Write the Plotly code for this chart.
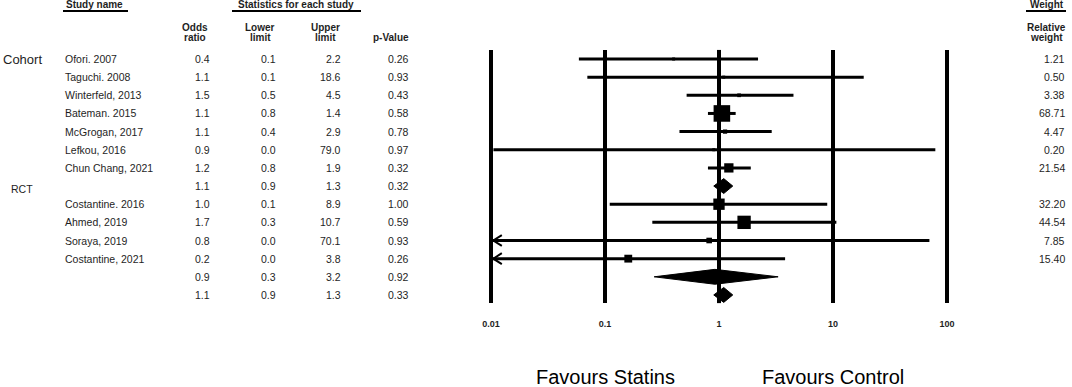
import numpy as np
import plotly.graph_objects as go

# ---------------- data ----------------
study_names = ["Ofori. 2007", "Taguchi. 2008", "Winterfeld, 2013", "Bateman. 2015",
               "McGrogan, 2017", "Lefkou, 2016", "Chun Chang, 2021", "",
               "Costantine. 2016", "Ahmed, 2019", "Soraya, 2019", "Costantine, 2021", "", ""]
row_kind = ["study"] * 7 + ["pooled"] + ["study"] * 4 + ["pooled", "pooled"]
group_labels = ["Cohort", "RCT"]
group_rows = [0, 7.15]

odds_ratio_txt = ["0.4", "1.1", "1.5", "1.1", "1.1", "0.9", "1.2", "1.1",
                  "1.0", "1.7", "0.8", "0.2", "0.9", "1.1"]
lower_txt = ["0.1", "0.1", "0.5", "0.8", "0.4", "0.0", "0.8", "0.9",
             "0.1", "0.3", "0.0", "0.0", "0.3", "0.9"]
upper_txt = ["2.2", "18.6", "4.5", "1.4", "2.9", "79.0", "1.9", "1.3",
             "8.9", "10.7", "70.1", "3.8", "3.2", "1.3"]
p_value_txt = ["0.26", "0.93", "0.43", "0.58", "0.78", "0.97", "0.32", "0.32",
               "1.00", "0.59", "0.93", "0.26", "0.92", "0.33"]
weight_txt = ["1.21", "0.50", "3.38", "68.71", "4.47", "0.20", "21.54", "",
              "32.20", "44.54", "7.85", "15.40", "", ""]

# plotted values
odds_ratio = [0.40, 1.10, 1.50, 1.06, 1.13, 0.90, 1.22, 1.10,
              1.00, 1.66, 0.82, 0.16, 0.92, 1.10]
lower = [0.059, 0.07, 0.52, 0.80, 0.45, 0.0105, 0.80, 0.90,
         0.11, 0.26, 0.004, 0.004, 0.27, 0.90]
upper = [2.2, 18.6, 4.5, 1.4, 2.9, 79.0, 1.9, 1.32,
         8.9, 10.7, 70.1, 3.8, 3.3, 1.32]
weight = [1.21, 0.50, 3.38, 68.71, 4.47, 0.20, 21.54, 0,
          32.20, 44.54, 7.85, 15.40, 0, 0]

tick_values = [0.01, 0.1, 1, 10, 100]
tick_labels = ["0.01", "0.1", "1", "10", "100"]
axis_min = 0.01

# ---------------- layout helpers ----------------
W, H = 1072, 387
FONT = "Arial, Liberation Sans, sans-serif"
TXT = "#1e1e1e"


def px(x):
    return x / W


def py(y):
    return 1 - y / H


rows = list(range(len(study_names)))
fig = go.Figure()

# vertical reference lines at each decade
vx, vy = [], []
for t in tick_values:
    vx += [t, t, None]
    vy += [-0.5, 13.45, None]
fig.add_trace(go.Scatter(x=vx, y=vy, mode="lines", line=dict(color="black", width=4),
                         hoverinfo="skip", showlegend=False))

# confidence interval lines for studies
cx, cy = [], []
ax_, ay_ = [], []
for r, k, lo, hi in zip(rows, row_kind, lower, upper):
    if k != "study":
        continue
    lo_c = max(lo, axis_min)
    cx += [lo_c, hi, None]
    cy += [r, r, None]
    if lo < axis_min:
        l0 = np.log10(axis_min) + 0.02
        ax_ += [10 ** (l0 + 0.075), 10 ** l0, 10 ** (l0 + 0.075), None]
        ay_ += [r - 0.3, r, r + 0.3, None]
fig.add_trace(go.Scatter(x=cx, y=cy, mode="lines", line=dict(color="black", width=3),
                         hoverinfo="skip", showlegend=False))
fig.add_trace(go.Scatter(x=ax_, y=ay_, mode="lines", line=dict(color="black", width=2),
                         hoverinfo="skip", showlegend=False))

# study squares sized by weight
sx = [o for o, k in zip(odds_ratio, row_kind) if k == "study"]
sy = [r for r, k in zip(rows, row_kind) if k == "study"]
ss = [max(3, 2.0 * np.sqrt(w)) for w, k in zip(weight, row_kind) if k == "study"]
fig.add_trace(go.Scatter(x=sx, y=sy, mode="markers",
                         marker=dict(symbol="square", color="black", size=ss, opacity=1,
                                     line=dict(width=0)),
                         hoverinfo="skip", showlegend=False))

# pooled diamonds
for r, k, o, lo, hi in zip(rows, row_kind, odds_ratio, lower, upper):
    if k != "pooled":
        continue
    fig.add_trace(go.Scatter(x=[lo, o, hi, o, lo], y=[r, r - 0.41, r, r + 0.41, r],
                             mode="lines", fill="toself", fillcolor="black",
                             line=dict(color="black", width=1),
                             hoverinfo="skip", showlegend=False))

ann = []


def add_text(text, x, y, xanchor="left", yref="y", size=10, bold=False, color=TXT):
    ann.append(dict(text=("<b>%s</b>" % text) if bold else text, x=px(x), xref="paper",
                    y=y, yref=yref, xanchor=xanchor, yanchor="middle", showarrow=False,
                    font=dict(family=FONT, size=size, color=color)))


# table body
for r in rows:
    if study_names[r]:
        add_text(study_names[r], 63, r, size=10.5)
    add_text(odds_ratio_txt[r], 212, r, "right", size=10.5)
    add_text(lower_txt[r], 278, r, "right", size=10.5)
    add_text(upper_txt[r], 343, r, "right", size=10.5)
    add_text(p_value_txt[r], 411, r, "right", size=10.5)
    if weight_txt[r]:
        add_text(weight_txt[r], 1067, r, "right", size=10.5)

add_text(group_labels[0], 1, group_rows[0], size=13)
add_text(group_labels[1], 9, group_rows[1], size=10.5)

# headers
HS = 10
add_text("Study name", 64, py(5), yref="paper", size=HS, bold=True)
add_text("Statistics for each study", 296, py(5), "center", yref="paper", size=HS, bold=True)
add_text("Weight", 1047, py(5), "center", yref="paper", size=HS, bold=True)
for label, xc in [(("Odds", "ratio"), 195), (("Lower", "limit"), 260), (("Upper", "limit"), 325),
                  (("Relative", "weight"), 1046)]:
    add_text(label[0], xc, py(27), "center", yref="paper", size=HS, bold=True)
    add_text(label[1], xc, py(38), "center", yref="paper", size=HS, bold=True)
add_text("p-Value", 411, py(38), "right", yref="paper", size=HS, bold=True)

# footer
add_text("Favours Statins", 605, py(377), "center", yref="paper", size=20, color="black")
add_text("Favours Control", 833, py(377), "center", yref="paper", size=20, color="black")

shapes = []
for x0, x1 in [(63, 128), (232, 361), (1026, 1066)]:
    shapes.append(dict(type="line", xref="paper", yref="paper", x0=px(x0), x1=px(x1),
                       y0=py(11), y1=py(11), line=dict(color="black", width=2)))

fig.update_layout(
    width=W, height=H, margin=dict(l=0, r=0, t=0, b=0),
    paper_bgcolor="white", plot_bgcolor="white",
    annotations=ann, shapes=shapes, showlegend=False,
    xaxis=dict(type="log", range=[-2.1, 2.1], domain=[px(719 - 2.1 * 114), px(719 + 2.1 * 114)],
               showgrid=False, zeroline=False, showline=False, ticks="",
               tickvals=tick_values, ticktext=["<b>%s</b>" % t for t in tick_labels],
               tickfont=dict(family=FONT, size=9, color=TXT), ticklabelstandoff=4),
    yaxis=dict(range=[(313 - 59) / 18.15, -59 / 18.15], domain=[py(313), 1],
               showgrid=False, zeroline=False, showline=False, showticklabels=False, ticks=""),
)

fig.write_html("out.html", config={"displayModeBar": False},
               post_script="document.body.style.margin='0';document.body.style.overflow='hidden';")
